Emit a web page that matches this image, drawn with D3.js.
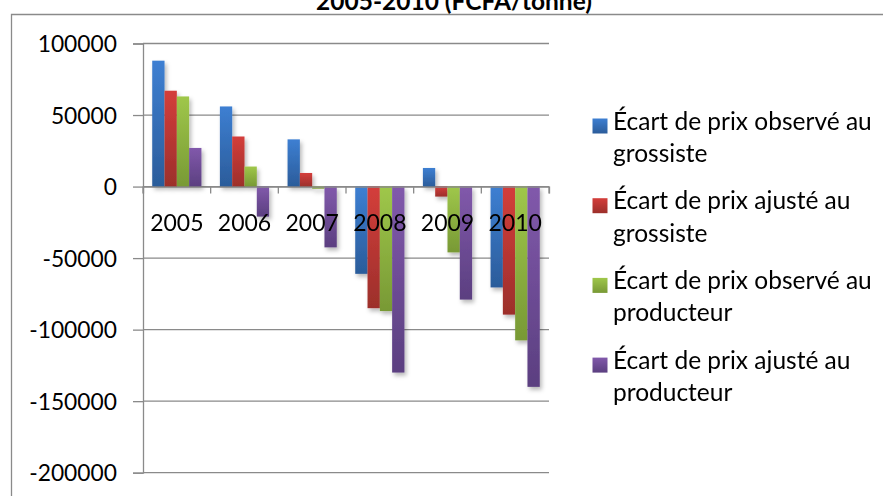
<!DOCTYPE html>
<html>
<head>
<meta charset="utf-8">
<script src="https://cdn.jsdelivr.net/npm/d3@7"></script>
<style>
  html, body { margin: 0; padding: 0; background: #fff; }
  svg { display: block; font-family: Lato, "Open Sans", sans-serif; }
</style>
</head>
<body>
<svg id="chart" width="883" height="496"></svg>
<script>
const titleText = "2005-2010 (FCFA/tonne)";
const years = ["2005", "2006", "2007", "2008", "2009", "2010"];
const seriesNames = [
  ["Écart de prix observé au", "grossiste"],
  ["Écart de prix ajusté au", "grossiste"],
  ["Écart de prix observé au", "producteur"],
  ["Écart de prix ajusté au", "producteur"]
];
const observeGrossiste = [88000, 56000, 33000, -61000, 13000, -70500];
const ajusteGrossiste  = [67000, 35000, 9500, -85000, -7000, -89500];
const observeProducteur = [63000, 14000, -1500, -87000, -46000, -107500];
const ajusteProducteur  = [27000, -21000, -42500, -130000, -79000, -140000];
const yTicks = [100000, 50000, 0, -50000, -100000, -150000, -200000];
const colorsTop = ["#3d7fd2", "#d43e3b", "#9fc74a", "#8159ab"];
const colorsBottom = ["#2b5c9a", "#9c2f2b", "#789935", "#5b3f80"];

const seriesValues = [observeGrossiste, ajusteGrossiste, observeProducteur, ajusteProducteur];

(function () {
const svg = d3.select("#chart");
const defs = svg.append("defs");
colorsTop.forEach((c, i) => {
  const g = defs.append("linearGradient").attr("id", "grad" + i)
    .attr("x1", 0).attr("y1", 0).attr("x2", 0).attr("y2", 1);
  g.append("stop").attr("offset", "0%").attr("stop-color", c);
  g.append("stop").attr("offset", "100%").attr("stop-color", colorsBottom[i]);
});
const f = defs.append("filter").attr("id", "shadow")
  .attr("x", "-20%").attr("y", "-20%").attr("width", "150%").attr("height", "150%");
f.append("feDropShadow").attr("dx", 2).attr("dy", 3).attr("stdDeviation", 2.2)
  .attr("flood-color", "#000").attr("flood-opacity", 0.28);

const pLeft = 143, pRight = 549, pTop = 43.5, pBottom = 472.7;
const gray = "#8a8a8a";

// frame
svg.append("path").attr("d", `M11.5,496 L11.5,14.5 L883,14.5`)
  .attr("fill", "none").attr("stroke", gray).attr("stroke-width", 1.3);

// title (clipped at top, as in the reference)
svg.append("text").attr("x", 454).attr("y", 10)
  .attr("text-anchor", "middle").attr("font-weight", "bold")
  .attr("font-size", 24.5).attr("fill", "#000").text(titleText);

const y = d3.scaleLinear().domain([-200000, 100000]).range([pBottom, pTop]);
const x0 = d3.scaleBand().domain(years).range([pLeft, pRight]).padding(0);
const bw = x0.bandwidth();
const x1 = d3.scaleBand().domain(d3.range(4))
  .range([bw * 0.75 / 5.5, bw * (1 - 0.75 / 5.5)]).padding(0);

// gridlines
svg.append("g").selectAll("line").data(yTicks).join("line")
  .attr("x1", pLeft).attr("x2", pRight)
  .attr("y1", d => y(d)).attr("y2", d => y(d))
  .attr("stroke", gray).attr("stroke-width", 1.3);

// y axis
const yAxis = svg.append("g").attr("transform", `translate(${pLeft},0)`)
  .call(d3.axisLeft(y).tickValues(yTicks).tickFormat(d => String(d)).tickSize(10).tickPadding(16));
yAxis.select(".domain").attr("stroke", gray).attr("stroke-width", 1.3);
yAxis.selectAll(".tick line").attr("stroke", gray).attr("stroke-width", 1.3);
yAxis.selectAll(".tick text").attr("font-size", 22.8).attr("fill", "#000")
  .attr("font-family", "Lato, sans-serif").attr("dy", "0.36em");

// bars
const barsG = svg.append("g").attr("filter", "url(#shadow)");
years.forEach((yr, i) => {
  const g = barsG.append("g").attr("transform", `translate(${x0(yr)},0)`);
  g.selectAll("rect").data(seriesValues.map((s, k) => ({ k, v: s[i] }))).join("rect")
    .attr("x", d => x1(d.k))
    .attr("width", x1.bandwidth())
    .attr("y", d => y(Math.max(0, d.v)))
    .attr("height", d => Math.abs(y(d.v) - y(0)))
    .attr("fill", d => `url(#grad${d.k})`);
});

// x axis at zero
const xAxis = svg.append("g").attr("transform", `translate(0,${y(0)})`)
  .call(d3.axisBottom(x0).tickSizeOuter(0).tickSize(7).tickFormat(""));
xAxis.select(".domain").attr("stroke", gray).attr("stroke-width", 1.3);
xAxis.selectAll(".tick").remove();
svg.append("g").selectAll("line").data(d3.range(years.length + 1)).join("line")
  .attr("x1", i => pLeft + i * bw).attr("x2", i => pLeft + i * bw)
  .attr("y1", y(0)).attr("y2", y(0) + 7)
  .attr("stroke", gray).attr("stroke-width", 1.3);

// category labels
svg.append("g").selectAll("text").data(years).join("text")
  .attr("x", d => x0(d) + bw / 2).attr("y", 230.5)
  .attr("text-anchor", "middle").attr("font-size", 23).attr("fill", "#000")
  .text(d => d);

// legend
const legend = svg.append("g");
seriesNames.forEach((lines, k) => {
  const by = 129.5 + k * 79.7;
  legend.append("rect").attr("x", 592.5).attr("y", by - 11).attr("width", 15).attr("height", 15)
    .attr("fill", `url(#grad${k})`);
  lines.forEach((t, j) => {
    legend.append("text").attr("x", 613).attr("y", by + j * 32.4)
      .attr("font-size", 24.5).attr("fill", "#000").text(t);
  });
});
})();
</script>
</body>
</html>
